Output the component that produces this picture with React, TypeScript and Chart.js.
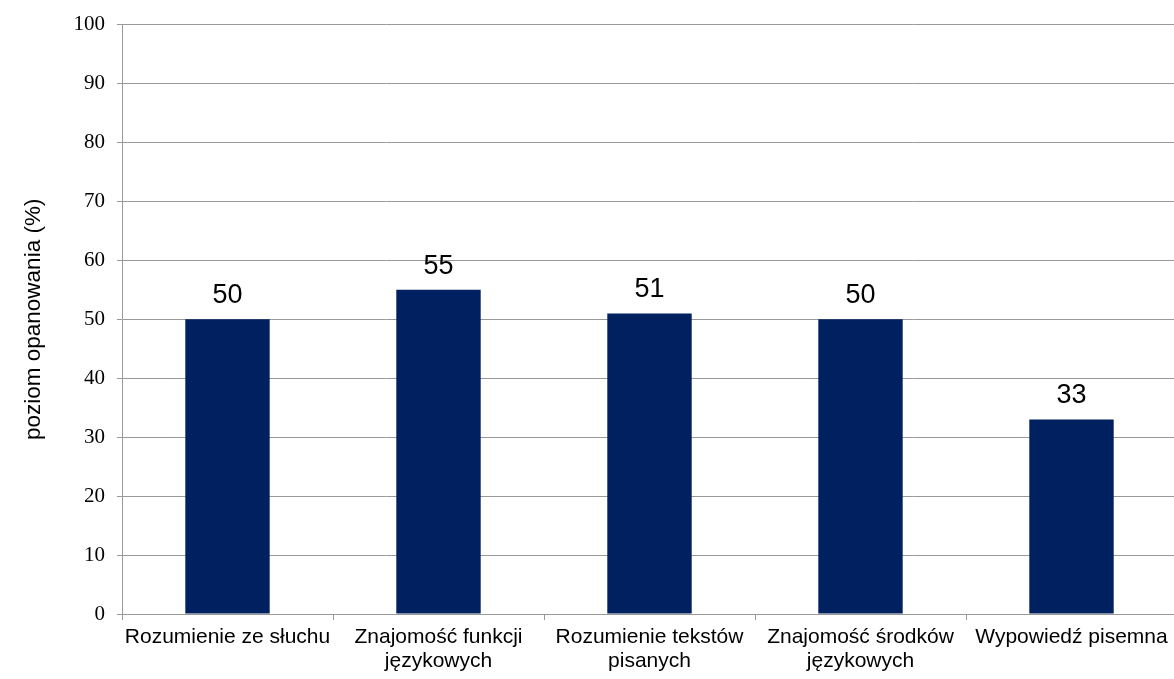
import React, { useEffect, useRef } from "react";
import { Chart, registerables } from "chart.js";

Chart.register(...registerables);

const categories: string[][] = [
  ["Rozumienie ze słuchu"],
  ["Znajomość funkcji", "językowych"],
  ["Rozumienie tekstów", "pisanych"],
  ["Znajomość środków", "językowych"],
  ["Wypowiedź pisemna"],
];
const values: number[] = [50, 55, 51, 50, 33];
const yTitle = "poziom opanowania (%)";

const valueLabels = {
  id: "valueLabels",
  afterDatasetsDraw(chart: any) {
    const ctx = chart.ctx;
    const meta = chart.getDatasetMeta(0);
    ctx.save();
    ctx.font = "27px 'Liberation Sans', Arial, sans-serif";
    ctx.fillStyle = "#000";
    ctx.textAlign = "center";
    ctx.textBaseline = "alphabetic";
    meta.data.forEach((el: any, i: number) => {
      ctx.fillText(String(values[i]), el.x, el.y - 16);
    });
    ctx.restore();
  },
};

export default function App() {
  const ref = useRef<HTMLCanvasElement | null>(null);
  useEffect(() => {
    document.body.style.margin = "0";
    document.body.style.overflow = "hidden";
    const chart = new Chart(ref.current as HTMLCanvasElement, {
      type: "bar",
      data: {
        labels: categories,
        datasets: [
          {
            data: values,
            backgroundColor: "#002060",
            borderWidth: 0,
            categoryPercentage: 0.8,
            barPercentage: 0.5,
          },
        ],
      },
      options: {
        animation: false,
        responsive: false,
        maintainAspectRatio: false,
        layout: { padding: { top: 24, right: 0, left: 0, bottom: 0 } },
        plugins: { legend: { display: false }, tooltip: { enabled: false } },
        scales: {
          x: {
            offset: true,
            grid: {
              offset: true,
              drawOnChartArea: false,
              drawTicks: true,
              tickLength: 6,
              color: "#999",
            },
            border: { color: "#999", width: 1 },
            ticks: {
              color: "#000",
              font: { family: "'Liberation Sans', Arial, sans-serif", size: 21, lineHeight: 1.15 },
              padding: 5,
              maxRotation: 0,
              autoSkip: false,
            },
            afterFit(scale: any) {
              scale.height = 65;
            },
          },
          y: {
            min: 0,
            max: 100,
            ticks: {
              stepSize: 10,
              color: "#000",
              font: { family: "'Liberation Serif', 'Times New Roman', serif", size: 21 },
              padding: 12,
            },
            grid: { color: "#999", lineWidth: 1, tickLength: 5 },
            border: { color: "#999", width: 1 },
            title: {
              display: true,
              text: yTitle,
              color: "#000",
              font: { family: "'Liberation Sans', Arial, sans-serif", size: 22.5 },
              padding: { top: 20, bottom: 0 },
            },
            afterFit(scale: any) {
              scale.width = 122;
            },
          },
        },
      },
      plugins: [valueLabels],
    });
    return () => chart.destroy();
  }, []);
  return (
    <div style={{ position: "absolute", left: 0, top: 0, width: 1177, height: 679 }}>
      <canvas ref={ref} width={1177} height={679} />
    </div>
  );
}
